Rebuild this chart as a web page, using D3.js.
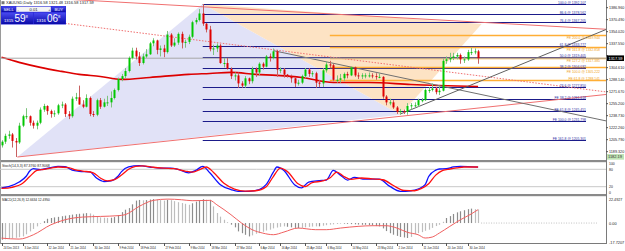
<!DOCTYPE html>
<html>
<head>
<meta charset="utf-8">
<script src="https://cdn.jsdelivr.net/npm/d3@7"></script>
<style>
  html, body { margin: 0; padding: 0; background: #fff; }
  svg { display: block; font-family: "Liberation Sans", Arial, sans-serif; }
</style>
</head>
<body>
<div id="chart"></div>
<script>
// ---- data (bar index 0 = 24 Dec 2013) ----
const opens = [1198,1203,1211,1213,1204,1202,1225,1238,1238,1229,
  1225,1229,1247,1252,1245,1241,1242,1253,1254,1241,
  1238,1262,1264,1254,1251,1263,1241,1240,1260,1251,
  1257,1257,1263,1274,1289,1293,1300,1318,1328,1320,
  1311,1320,1323,1338,1342,1329,1331,1326,1350,1335,
  1339,1351,1339,1340,1347,1367,1370,1379,1365,1357,
  1330,1331,1335,1311,1311,1303,1293,1294,1283,1280,
  1290,1286,1303,1298,1310,1306,1320,1318,1327,1302,
  1302,1295,1293,1290,1283,1284,1293,1302,1296,1297,
  1284,1283,1301,1309,1308,1288,1288,1290,1296,1294,
  1305,1294,1293,1294,1294,1294,1293,1292,1292,1265,
  1257,1257,1250,1244,1245,1244,1252,1253,1253,1260,
  1260,1274,1274,1276,1271,1273,1314,1316,1318,1320,
  1322,1316,1316,1326,1326,1327];
const highs = [1205,1214,1218,1215,1208,1229,1240,1249,1239,1232,
  1232,1250,1255,1253,1247,1246,1255,1258,1256,1245,
  1265,1270,1280,1260,1268,1265,1245,1262,1263,1262,
  1266,1272,1276,1291,1296,1304,1320,1332,1332,1326,
  1324,1330,1340,1345,1343,1335,1336,1355,1352,1345,
  1353,1354,1343,1350,1369,1373,1385,1392,1366,1362,
  1336,1338,1337,1318,1318,1305,1298,1298,1286,1293,
  1291,1306,1305,1312,1312,1322,1324,1331,1329,1305,
  1304,1296,1295,1291,1288,1295,1304,1304,1300,1299,
  1288,1304,1313,1314,1310,1294,1296,1298,1299,1306,
  1306,1298,1297,1297,1298,1297,1297,1297,1293,1267,
  1262,1260,1252,1248,1247,1256,1256,1257,1262,1263,
  1276,1278,1283,1278,1280,1317,1320,1325,1325,1325,
  1324,1320,1329,1332,1331,1329];
const lows = [1195,1200,1207,1195,1182,1200,1223,1234,1225,1221,
  1220,1227,1244,1240,1236,1237,1240,1249,1237,1234,
  1236,1259,1254,1249,1250,1238,1237,1238,1248,1250,
  1252,1250,1261,1272,1286,1290,1298,1316,1316,1307,
  1309,1318,1322,1334,1323,1320,1319,1324,1333,1333,
  1336,1331,1332,1337,1345,1364,1368,1362,1353,1327,
  1322,1326,1310,1305,1302,1289,1287,1277,1277,1277,
  1282,1283,1292,1294,1302,1305,1313,1316,1292,1297,
  1291,1291,1284,1278,1280,1282,1290,1292,1292,1277,
  1278,1278,1298,1304,1286,1284,1284,1286,1290,1293,
  1292,1289,1289,1290,1291,1290,1288,1290,1262,1253,
  1253,1248,1241,1240,1241,1240,1247,1250,1251,1257,
  1259,1270,1272,1268,1267,1272,1310,1312,1315,1316,
  1310,1311,1314,1322,1323,1310];
const closes = [1203,1211,1213,1204,1202,1225,1238,1238,1229,1225,
  1229,1247,1252,1245,1241,1242,1253,1254,1241,1238,
  1262,1264,1254,1251,1263,1241,1240,1260,1251,1257,
  1257,1263,1274,1289,1293,1300,1318,1328,1320,1311,
  1320,1323,1338,1342,1329,1331,1326,1350,1335,1339,
  1351,1339,1340,1347,1367,1370,1379,1365,1357,1330,
  1331,1335,1311,1311,1303,1293,1294,1283,1280,1290,
  1286,1303,1298,1310,1306,1320,1318,1327,1302,1302,
  1295,1293,1290,1283,1284,1293,1302,1296,1297,1284,
  1283,1301,1309,1308,1288,1288,1290,1296,1294,1305,
  1294,1293,1294,1294,1294,1293,1292,1292,1265,1257,
  1257,1250,1244,1245,1244,1252,1253,1253,1260,1260,
  1274,1274,1276,1271,1273,1314,1316,1318,1320,1322,
  1316,1316,1326,1326,1327,1317.59];

// moving average [bar, price]
const maLine = [[0,1318.8],[5,1311.9],[11,1305],[17,1299.5],[22,1295.4],[28,1292.6],[34,1288.5],
  [42,1291.2],[53,1295.4],[59,1296.7],[65,1298.1],[72,1295.4],[78,1294],[85,1291.2],[94,1284.2],
  [104,1284.2],[116,1281.5],[135,1278.7]];

// trend lines [bar, price] anchor pairs
const upperTrend = [[25,1396.8],[171,1357.4]];
const lowerTrend = [[4.5,1182],[171,1267.7]];
const dottedTrend = [[18,1365.4],[171,1271.5]];
const fallTrend = [[77,1328],[163,1240]];
const riseTrend = [[113,1241],[125,1264.9]];

// shaded triangles [bar, price]
const blueTriangle = [[4.5,1182],[57,1392],[113,1240]];
const peachTriangle = [[57,1392],[113,1240],[136,1364.4]];

// fibo levels
const retrLevels = [["100.0",1392.107],["86.6",1378.562],["76.4",1367.205],["61.8",1333.777],
  ["50.0",1319.405],["38.2",1304.032],["23.6",1277.850]];
const feLowLevels = [["FE 38.2",1261.618],["FE 61.8",1245.451],["FE 100.0",1231.798],["FE 161.8",1205.301]];
const feHighLevels = [["FE 61.8",1288.141],["FE 100.0",1305.222],["FE 127.2",1317.385],["FE 161.8",1332.858],["FE 200.0",1349.944]];

const priceTicks = [1386.96,1370.49,1354.02,1337.55,1321.08,1304.61,1288.14,1271.67,1255.20,1238.73,1222.26,1205.79,1189.32];
const lowMarker = 1182.19;

// stochastic [bar, value]
const stochMain = [[0,16],[2,20],[5,36],[7,56],[8,74],[9,82],[11,79],[14,86],[16,90],[18,89],[20,77],[22,73],
  [25,71],[27,49],[29,38],[31,40],[33,56],[34,72],[36,88],[39,93],[42,88],[45,84],[48,84],[50,80],[53,68],
  [55,76],[57,90],[59,68],[62,27],[65,10],[67,4],[70,4],[73,10],[75,28],[77,70],[78,88],[80,76],[83,27],
  [85,16],[87,36],[90,41],[92,43],[94,76],[96,60],[98,43],[100,52],[103,46],[107,46],[110,21],[113,4],
  [116,6],[118,12],[120,27],[121,55],[123,77],[124,81],[126,82],[128,88],[130,90],[135,87.4]];
const stochSignal = [[0,14],[3,18],[6,32],[8,55],[10,76],[12,80],[14,84],[16,88],[19,86],[21,78],[23,74],
  [26,68],[28,50],[30,40],[32,44],[34,60],[36,80],[38,90],[40,92],[43,87],[46,84],[49,82],[52,74],[54,70],
  [56,78],[58,88],[60,70],[63,32],[66,12],[69,5],[72,6],[75,20],[77,55],[79,84],[81,72],[84,30],[86,20],
  [88,34],[91,40],[93,50],[95,70],[97,55],[99,45],[102,50],[105,47],[108,44],[111,24],[114,7],[117,6],
  [119,14],[121,30],[123,60],[125,76],[127,81],[129,85],[131,88],[135,87.9]];

// MACD histogram per bar and signal [bar, value]
const macdHist = [-15.6,-15.2,-14.8,-14.2,-13.8,-13.2,-12.5,-10.5,-7.8,-5.5,
  -3.1,-0.6,1.8,4.0,4.7,5.3,5.8,6.4,6.9,7.4,
  7.9,8.3,8.7,8.9,9.3,9.0,7.8,6.5,5.3,5.0,
  4.8,5.0,5.6,7.5,10.2,12.5,14.0,17.5,21.0,21.6,
  21.3,21.5,22.0,22.4,22.0,21.5,21.0,21.8,21.4,20.5,
  19.5,18.7,18.0,17.1,18.5,20.0,21.1,22.4,21.8,21.8,
  15.6,9.4,6.0,3.1,0.8,-1.5,-4.0,-7.8,-9.5,-11.0,
  -12.5,-11.5,-10.0,-9.4,-8.2,-7.0,-6.2,-5.0,-4.2,-3.5,
  -3.1,-3.5,-4.0,-4.5,-4.7,-4.5,-4.0,-3.6,-3.3,-3.1,
  -3.1,-2.5,-2.0,-1.5,-1.2,-0.9,-0.6,-0.6,-0.8,-1.0,
  -1.2,-1.4,-1.6,-1.6,-1.8,-2.2,-2.8,-3.1,-5.0,-7.5,
  -9.5,-10.9,-12.0,-13.0,-13.5,-14.0,-13.0,-10.5,-9.4,-8.5,
  -7.2,-6.2,-4.5,-2.8,-1.6,1.2,4.7,6.5,8.5,10.0,
  11.0,12.0,13.0,13.5,13.0,12.66];
const macdSignal = [[0,-14.1],[5,-15],[9,-11],[14,-1.6],[18,3.1],[23,5.6],[28,6.2],[33,6.9],[35,7.8],
  [39,15.6],[43,21.2],[47,22.4],[51,21.8],[54,20.9],[59,21.2],[61,17.1],[65,7.8],[68,0],[71,-6.2],
  [74,-9.4],[77,-10.9],[80,-8.4],[84,-4.7],[89,-6.2],[92,-6.2],[96,-4.7],[101,-3.1],[105,-2.5],
  [109,-2.5],[112,-4.7],[115,-8.7],[118,-10.9],[120,-14],[122,-13.1],[124,-9.4],[127,-3.1],[130,3.1],
  [133,8.4],[135,12.5]];

const dateLabels = ["24 Dec 2013","3 Jan 2014","12 Jan 2014","21 Jan 2014","30 Jan 2014","9 Feb 2014",
  "18 Feb 2014","27 Feb 2014","9 Mar 2014","18 Mar 2014","27 Mar 2014","6 Apr 2014","16 Apr 2014",
  "25 Apr 2014","6 May 2014","14 May 2014","23 May 2014","2 Jun 2014","11 Jun 2014","20 Jun 2014","30 Jun 2014"];
const dateBars = [0,6,13,19,26,33,39,46,53,59,66,73,79,86,92,99,106,112,119,126,132];

const headerText = "XAUUSD,Daily  1316.58 1321.48 1316.58 1317.59";
const stochText = "Stoch(14,3,3) 87.3760 87.9068";
const macdText = "MACD(12,26,9) 12.6634 12.4950";
const stochTicks = [100, 80, 20, 0];
const macdTicks = [22.4927, 0, -17.7207];
const sellQuote = ["1315", "59", "8"];
const buyQuote = ["1316", "06", "8"];

// ---- layout ----
const width = 625, height = 251;
const plotRight = 606;
const mainBottom = 160;

const x = d3.scaleLinear().domain([0, 135]).range([1.5, 478.1]);
const y = d3.scaleLinear().domain([1182, 1392]).range([157, 4]);
const yS = d3.scaleLinear().domain([0, 100]).range([192.5, 163.5]);
const yM = d3.scaleLinear().domain([-17.7207, 22.4927]).range([242, 199]);

const svg = d3.select("#chart").append("svg")
  .attr("width", width).attr("height", height);

// tiny screenshot text: squeeze to the width seen in the picture
function tiny(sel, perChar) {
  const t = sel.text();
  return sel.attr("textLength", (t.length * perChar).toFixed(1)).attr("lengthAdjust", "spacingAndGlyphs");
}

const defs = svg.append("defs");
defs.append("clipPath").attr("id", "mainClip")
  .append("rect").attr("x", 0).attr("y", 0).attr("width", plotRight).attr("height", mainBottom);
const grad = defs.append("linearGradient").attr("id", "btn").attr("x1", 0).attr("y1", 0).attr("x2", 0).attr("y2", 1);
grad.append("stop").attr("offset", "0%").attr("stop-color", "#4a4af0");
grad.append("stop").attr("offset", "100%").attr("stop-color", "#0a0aa8");

const main = svg.append("g").attr("clip-path", "url(#mainClip)");

const xEnd = x.invert(plotRight);

// extend a 2-point line between the given bar limits
function extend(a, b, from, to) {
  const slope = (b[1] - a[1]) / (b[0] - a[0]);
  return [[from, a[1] + slope * (from - a[0])], [to, a[1] + slope * (to - a[0])]];
}
const tl = d3.line().x(d => x(d[0])).y(d => y(d[1]));

// shaded triangles
main.append("path").attr("d", tl(blueTriangle) + "Z").attr("fill", "#e1e2f7");
main.append("path").attr("d", tl(peachTriangle) + "Z").attr("fill", "#fde3c4");

// fibo lines
const fiboLabelX = 586;
const navyLevels = retrLevels.concat(feLowLevels);
navyLevels.forEach(d => {
  const yy = Math.round(y(d[1])) + 0.5;
  main.append("line").attr("x1", x(57)).attr("x2", fiboLabelX).attr("y1", yy).attr("y2", yy)
    .attr("stroke", "#1b1b8a").attr("stroke-width", 1.1);
});
feHighLevels.forEach(d => {
  const yy = Math.round(y(d[1])) + 0.5;
  main.append("line").attr("x1", x(93)).attr("x2", plotRight).attr("y1", yy).attr("y2", yy)
    .attr("stroke", "#ffae35").attr("stroke-width", 1.5);
});

// moving average
main.append("path")
  .attr("d", d3.line().x(d => x(d[0])).y(d => y(d[1])).curve(d3.curveMonotoneX)(maLine))
  .attr("fill", "none").attr("stroke", "#dd0000").attr("stroke-width", 1.6);

// trend lines
main.append("path").attr("d", tl(extend(upperTrend[0], upperTrend[1], -10, xEnd))).attr("fill", "none").attr("stroke", "#f07070").attr("stroke-width", 1);
main.append("path").attr("d", tl(extend(lowerTrend[0], lowerTrend[1], lowerTrend[0][0], xEnd))).attr("fill", "none").attr("stroke", "#f07070").attr("stroke-width", 1);
main.append("path").attr("d", tl(extend(dottedTrend[0], dottedTrend[1], dottedTrend[0][0], xEnd))).attr("fill", "none")
  .attr("stroke", "#f07070").attr("stroke-width", 1).attr("stroke-dasharray", "1.5,1.5");
main.append("path").attr("d", tl(extend(fallTrend[0], fallTrend[1], fallTrend[0][0], xEnd))).attr("fill", "none").attr("stroke", "#707070").attr("stroke-width", 1);
main.append("path").attr("d", tl(extend(riseTrend[0], riseTrend[1], riseTrend[0][0], xEnd))).attr("fill", "none").attr("stroke", "#606060").attr("stroke-width", 1);

// bid line
const last = closes[closes.length - 1];
main.append("line").attr("x1", 0).attr("x2", plotRight).attr("y1", y(last)).attr("y2", y(last))
  .attr("stroke", "#a8a8a8").attr("stroke-width", 1);

// candles
const bars = d3.range(closes.length);
main.selectAll("line.wick").data(bars).join("line")
  .attr("class", "wick")
  .attr("x1", i => Math.round(x(i)) + 0.5).attr("x2", i => Math.round(x(i)) + 0.5)
  .attr("y1", i => y(highs[i])).attr("y2", i => y(lows[i]))
  .attr("stroke", i => closes[i] >= opens[i] ? "#7cc47c" : "#c86060")
  .attr("stroke-width", 1);
main.selectAll("rect.body").data(bars).join("rect")
  .attr("class", "body")
  .attr("x", i => Math.round(x(i)) - 0.5)
  .attr("width", 2)
  .attr("y", i => y(Math.max(opens[i], closes[i])))
  .attr("height", i => Math.max(1, Math.abs(y(opens[i]) - y(closes[i]))))
  .attr("fill", i => closes[i] >= opens[i] ? "#00c800" : "#e00000");

// fibo labels: navy above the line; orange placed next to its line where it is free
const fibFont = 3.6;
const lab = svg.append("g").attr("font-size", fibFont);
const navyBase = navyLevels.map(d => Math.round(y(d[1])) - 0.4);
navyLevels.forEach((d, k) => {
  tiny(lab.append("text").attr("x", fiboLabelX).attr("y", navyBase[k])
    .attr("text-anchor", "end").attr("fill", "#2a2aa0")
    .text(`${d[0]} @ ${d[1].toFixed(3)}`), 1.75);
});
const boxOf = b => [b - fibFont * 0.9, b + fibFont * 0.25];
const navyBoxes = navyBase.map(boxOf);
const free = b => { const [t, u] = boxOf(b); return navyBoxes.every(([t2, u2]) => u < t2 || t > u2); };
feHighLevels.forEach(d => {
  const ly = Math.round(y(d[1]));
  const cands = [ly + 3.6, ly - 0.4, ly + 4.6, ly + 2.6, ly - 1.4, ly + 5.6];
  const base = cands.find(free) ?? cands[0];
  tiny(lab.append("text").attr("x", 600).attr("y", base)
    .attr("text-anchor", "end").attr("fill", "#f0a020")
    .text(`${d[0]} @ ${d[1].toFixed(3)}`), 1.75);
});

// panel separators and frame
svg.append("rect").attr("x", 0).attr("y", mainBottom).attr("width", plotRight).attr("height", 2.2).attr("fill", "#8a8a8a");
svg.append("rect").attr("x", 0).attr("y", 194).attr("width", plotRight).attr("height", 2.2).attr("fill", "#8a8a8a");
svg.append("line").attr("x1", 0).attr("x2", plotRight).attr("y1", 243.5).attr("y2", 243.5).attr("stroke", "#7a7a7a");
svg.append("line").attr("x1", plotRight + 0.5).attr("x2", plotRight + 0.5).attr("y1", 0).attr("y2", 244).attr("stroke", "#7a7a7a");
svg.append("line").attr("x1", 0.5).attr("x2", 0.5).attr("y1", 0).attr("y2", 244).attr("stroke", "#9a9a9a");

// price axis
const axisG = svg.append("g").attr("font-size", 4.2).attr("fill", "#222");
priceTicks.forEach(p => {
  axisG.append("line").attr("x1", plotRight).attr("x2", plotRight + 2)
    .attr("y1", y(p)).attr("y2", y(p)).attr("stroke", "#555");
  if (Math.abs(y(p) - y(last)) < 4.5) return;
  tiny(axisG.append("text").attr("x", plotRight + 3).attr("y", y(p) + 1.5).text(p.toFixed(3)), 1.9);
});
axisG.append("rect").attr("x", plotRight + 1).attr("y", y(last) - 2.8).attr("width", 17).attr("height", 5.6).attr("fill", "#000");
tiny(axisG.append("text").attr("x", plotRight + 2.5).attr("y", y(last) + 1.5).attr("fill", "#fff").text(last.toFixed(2)), 2);
axisG.append("rect").attr("x", plotRight + 1).attr("y", y(lowMarker) - 2.8).attr("width", 17).attr("height", 5.6).attr("fill", "#bfe3b4");
tiny(axisG.append("text").attr("x", plotRight + 2).attr("y", y(lowMarker) + 1.5).attr("fill", "#333").text(lowMarker.toFixed(2)), 2);

// stochastic panel
const stochG = svg.append("g");
[80, 20].forEach(v => {
  stochG.append("line").attr("x1", 0).attr("x2", plotRight).attr("y1", yS(v)).attr("y2", yS(v))
    .attr("stroke", "#c8c8c8").attr("stroke-width", 1);
});
const sl = d3.line().x(d => x(d[0])).y(d => yS(d[1])).curve(d3.curveMonotoneX);
stochG.append("path").attr("d", sl(stochMain)).attr("fill", "none").attr("stroke", "#1010ff").attr("stroke-width", 1.3);
stochG.append("path").attr("d", sl(stochSignal)).attr("fill", "none").attr("stroke", "#ff1010").attr("stroke-width", 1.3);
tiny(stochG.append("text").attr("x", 2).attr("y", 166.5).attr("font-size", 4.2).attr("fill", "#222").text(stochText), 1.65);
stochTicks.forEach(v => {
  tiny(stochG.append("text").attr("x", plotRight + 3).attr("y", yS(v) + 1.5).attr("font-size", 4.2).attr("fill", "#222").text(v), 1.9);
});

// MACD panel
const macdG = svg.append("g");
macdG.append("line").attr("x1", x(135) + 3).attr("x2", 597).attr("y1", yM(0)).attr("y2", yM(0))
  .attr("stroke", "#c0c0c0").attr("stroke-dasharray", "1,1.5");
macdG.selectAll("line.hist").data(bars).join("line")
  .attr("class", "hist")
  .attr("x1", i => Math.round(x(i)) + 0.5).attr("x2", i => Math.round(x(i)) + 0.5)
  .attr("y1", yM(0)).attr("y2", i => yM(macdHist[i]))
  .attr("stroke", i => (i > 0 && Math.abs(macdHist[i]) < Math.abs(macdHist[i - 1])) ? "#bdbdbd" : "#8c8c8c")
  .attr("stroke-width", 1.2);
macdG.append("path")
  .attr("d", d3.line().x(d => x(d[0])).y(d => yM(d[1])).curve(d3.curveMonotoneX)(macdSignal))
  .attr("fill", "none").attr("stroke", "#f06060").attr("stroke-width", 1);
tiny(macdG.append("text").attr("x", 2).attr("y", 200.5).attr("font-size", 4.2).attr("fill", "#222").text(macdText), 1.65);
macdTicks.forEach(v => {
  tiny(macdG.append("text").attr("x", plotRight + 3).attr("y", yM(v) + 1.5).attr("font-size", 4.2).attr("fill", "#222")
    .text(v === 0 ? "0.00" : v.toFixed(4)), 1.9);
});

// date axis
const dateG = svg.append("g").attr("font-size", 3.8).attr("fill", "#222");
dateLabels.forEach((t, k) => {
  const xx = Math.round(x(dateBars[k]));
  dateG.append("line").attr("x1", xx + 0.5).attr("x2", xx + 0.5).attr("y1", 243).attr("y2", 246).attr("stroke", "#555");
  tiny(dateG.append("text").attr("x", xx + 1.5).attr("y", 249).text(t), 1.4);
});

// header
tiny(svg.append("text").attr("x", 6).attr("y", 4.4).attr("font-size", 4.2).attr("fill", "#222").text(headerText), 1.95);
svg.append("rect").attr("x", 1.5).attr("y", 1.2).attr("width", 3).attr("height", 3).attr("fill", "#777");

// one-click trading panel
const tp = svg.append("g");
tp.append("rect").attr("x", 1).attr("y", 6).attr("width", 65).attr("height", 18.5).attr("fill", "#2a2ad8");
tp.append("rect").attr("x", 1.5).attr("y", 6.5).attr("width", 14).attr("height", 5.5).attr("fill", "url(#btn)");
tp.append("rect").attr("x", 51.5).attr("y", 6.5).attr("width", 14).attr("height", 5.5).attr("fill", "url(#btn)");
tp.append("rect").attr("x", 16.3).attr("y", 6.6).attr("width", 34.5).attr("height", 5.2).attr("fill", "#f4f4f4");
tp.append("text").attr("x", 17.5).attr("y", 10.8).attr("font-size", 4).attr("fill", "#333").text("-");
tp.append("text").attr("x", 48.2).attr("y", 10.8).attr("font-size", 4).attr("fill", "#333").text("+");
tp.append("text").attr("x", 33.5).attr("y", 10.8).attr("font-size", 4.2).attr("text-anchor", "middle").attr("fill", "#222").text("0.01");
tp.append("text").attr("x", 3.5).attr("y", 10.8).attr("font-size", 4.2).attr("fill", "#fff").text("SELL");
tp.append("text").attr("x", 54.5).attr("y", 10.8).attr("font-size", 4.2).attr("fill", "#fff").text("BUY");
tp.append("rect").attr("x", 1.5).attr("y", 12.6).attr("width", 31.5).attr("height", 11.4).attr("fill", "url(#btn)");
tp.append("rect").attr("x", 33.8).attr("y", 12.6).attr("width", 31.7).attr("height", 11.4).attr("fill", "url(#btn)");
[[sellQuote, 4], [buyQuote, 36.5]].forEach(([q, x0]) => {
  const t = tp.append("text").attr("x", x0).attr("y", 21.5).attr("fill", "#fff");
  t.append("tspan").attr("font-size", 4.2).text(q[0] + " ");
  t.append("tspan").attr("font-size", 10).text(q[1]);
  t.append("tspan").attr("font-size", 4.2).attr("dy", -4).text(q[2]);
});
</script>
</body>
</html>
